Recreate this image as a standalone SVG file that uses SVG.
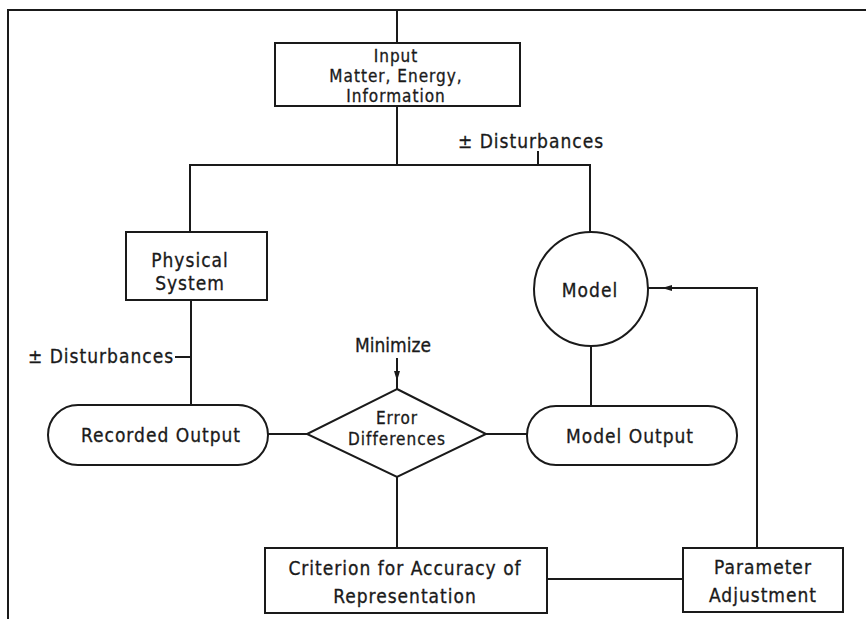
<svg xmlns="http://www.w3.org/2000/svg" width="866" height="619" viewBox="0 0 866 619">
<defs>
<style>
.n{fill:#fff;stroke:#1a1a1a;stroke-width:2}
.c{fill:none;stroke:#1a1a1a;stroke-width:2}
text{font-family:"DejaVu Sans Condensed","DejaVu Sans",sans-serif;font-size:19px;letter-spacing:1px;fill:#1a1a1a;stroke:#1a1a1a;stroke-width:0.3;text-anchor:middle}
.s{font-size:17px}
</style>
<marker id="ah" viewBox="0 0 10 6" refX="10" refY="3" markerWidth="5" markerHeight="3" orient="auto">
<path d="M0,0 L10,3 L0,6 Z" fill="#1a1a1a"/>
</marker>
</defs>
<rect width="866" height="619" fill="#fff"/>
<g id="connectors">
<path class="c" d="M8,619 V10 H866"/>
<path class="c" d="M397,10 V43"/>
<path class="c" d="M397,106 V165"/>
<path class="c" d="M190,232 V165 H590 V232"/>
<path class="c" d="M538,151 V165"/>
<path class="c" d="M191,300 V405"/>
<path class="c" d="M175,357 H191"/>
<path class="c" d="M268,434 H307"/>
<path class="c" d="M486,434 H527"/>
<path class="c" d="M591,346 V406"/>
<path class="c" d="M397,477 V548"/>
<path class="c" d="M547,579 H683"/>
<path class="c" d="M757,548 V288 H662" marker-end="url(#ah)"/>
<path class="c" d="M663,288 H648"/>
<path class="c" d="M397,358 V381" marker-end="url(#ah)"/>
<path class="c" d="M397,380 V390"/>
</g>
<g id="input">
<rect class="n" x="275" y="43" width="245" height="63"/>
<text class="s" x="396" y="62">Input</text>
<text class="s" x="396" y="82">Matter, Energy,</text>
<text class="s" x="396" y="102">Information</text>
</g>
<g id="disturbances-top"><text x="531" y="148">± Disturbances</text></g>
<g id="physical">
<rect class="n" x="126" y="232" width="141" height="68"/>
<text x="190" y="267">Physical</text>
<text x="190" y="290">System</text>
</g>
<g id="model">
<circle class="n" cx="591" cy="289" r="57"/>
<text x="590" y="297">Model</text>
</g>
<g id="disturbances-left"><text x="101" y="363">± Disturbances</text></g>
<g id="minimize"><text x="393" y="352" style="letter-spacing:0">Minimize</text></g>
<g id="recorded">
<rect class="n" x="48" y="405" width="220" height="60" rx="30"/>
<text x="161" y="442">Recorded Output</text>
</g>
<g id="error">
<path class="n" d="M397,389 L486,434 L397,477 L307,434 Z"/>
<text class="s" x="397" y="424">Error</text>
<text class="s" x="397" y="445">Differences</text>
</g>
<g id="modeloutput">
<rect class="n" x="527" y="406" width="210" height="59" rx="29"/>
<text x="630" y="443">Model Output</text>
</g>
<g id="criterion">
<rect class="n" x="265" y="548" width="282" height="65"/>
<text x="405" y="575">Criterion for Accuracy of</text>
<text x="405" y="603">Representation</text>
</g>
<g id="param">
<rect class="n" x="683" y="548" width="160" height="64"/>
<text x="763" y="574">Parameter</text>
<text x="763" y="602">Adjustment</text>
</g>
</svg>
